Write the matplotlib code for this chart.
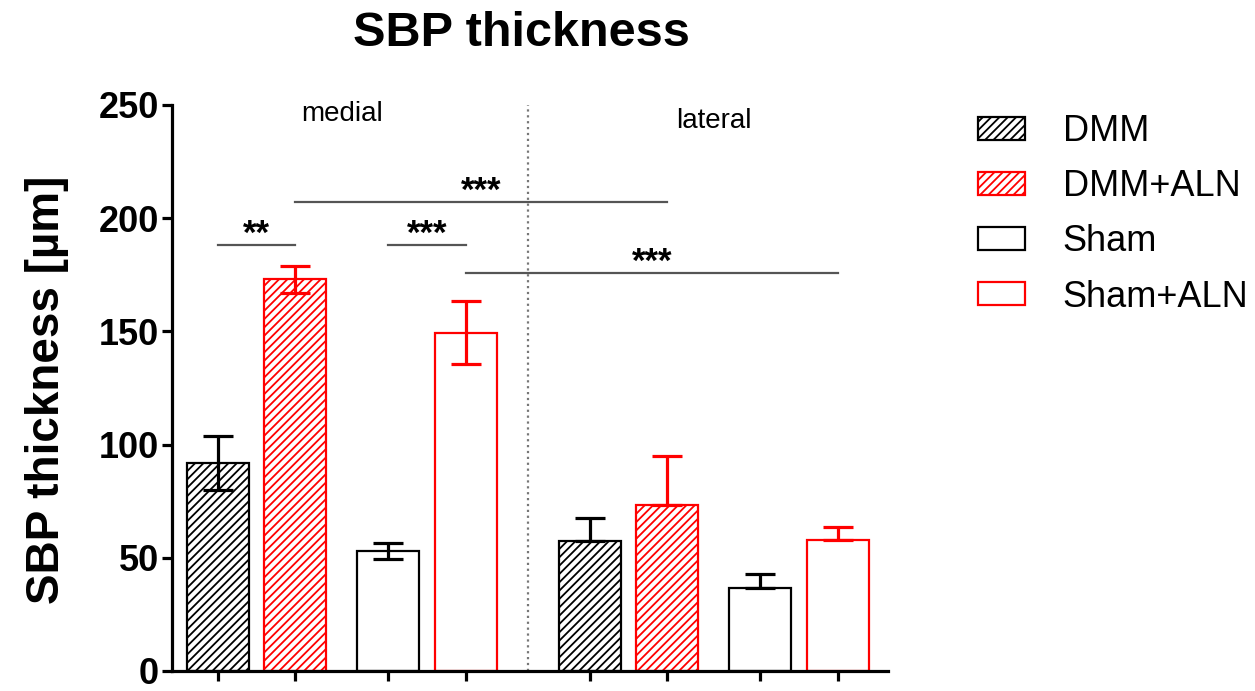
import numpy as np
import matplotlib
matplotlib.use("Agg")
import matplotlib.pyplot as plt
from matplotlib.patches import Patch

plt.rcParams["font.family"] = ["Liberation Sans", "DejaVu Sans"]
plt.rcParams["hatch.linewidth"] = 1.3

# Data
regions = ["medial", "lateral"]
series = ["DMM", "DMM+ALN", "Sham", "Sham+ALN"]
dmm = [92, 57.5]
dmm_err = [12, 10]
dmm_aln = [173, 73.5]
dmm_aln_err = [6, 21.5]
sham = [53, 36.5]
sham_err = [3.5, 6.5]
sham_aln = [149.5, 58]
sham_aln_err = [14, 5.5]
# error bars shown both ways for medial, only upward for lateral
both_sides = [True, False]

# significance: (series index, region a, series index, region b, y level, label)
sig_pairs = [
    (0, 0, 1, 0, 188, "**"),
    (2, 0, 3, 0, 188, "***"),
    (1, 0, 1, 1, 207, "***"),
    (3, 0, 3, 1, 176, "***"),
]

means = [dmm, dmm_aln, sham, sham_aln]
errs = [dmm_err, dmm_aln_err, sham_err, sham_aln_err]
colors = ["black", "red", "black", "red"]
hatches = ["////", "////", None, None]

# layout
series_offset = [0, 1, 2.2, 3.2]
region_offset = [0, 4.8]
width = 0.8

fig = plt.figure(figsize=(12.55, 6.91), dpi=100)
ax = fig.add_axes([0.137, 20 / 691, 0.5705, 566 / 691])

pos = {}
for s in range(len(series)):
    xs = [region_offset[r] + series_offset[s] for r in range(len(regions))]
    for r in range(len(regions)):
        pos[(s, r)] = xs[r]
    ax.bar(xs, means[s], width=width, facecolor="white", edgecolor=colors[s],
           hatch=hatches[s], linewidth=1.6, zorder=2)
    for r in range(len(regions)):
        lo = errs[s][r] if both_sides[r] else 0
        ax.errorbar(xs[r], means[s][r], yerr=[[lo], [errs[s][r]]], fmt="none",
                    ecolor=colors[s], elinewidth=2.3, capsize=10.5, capthick=2.3,
                    zorder=3)

# divider between regions
mid = (region_offset[0] + series_offset[-1] + region_offset[1]) / 2
ax.plot([mid, mid], [0, 250], color="#777777", linestyle=":", lw=1.6, zorder=1)

# region labels
label_y = [246, 243]
for r, name in enumerate(regions):
    cx = region_offset[r] + (series_offset[0] + series_offset[-1]) / 2
    ax.text(cx, label_y[r], name, ha="center", va="center", fontsize=20)

# significance lines
for s1, r1, s2, r2, y, lab in sig_pairs:
    x1, x2 = pos[(s1, r1)], pos[(s2, r2)]
    ax.plot([x1, x2], [y, y], color="#555555", lw=1.6, zorder=1)
    ax.text((x1 + x2) / 2, y + 0.5, lab, ha="center", va="baseline",
            fontsize=25, fontweight="bold")

ax.set_xlim(-0.594, 8.645)
ax.set_ylim(0, 250)
ax.set_yticks([0, 50, 100, 150, 200, 250])
ax.set_xticks(sorted(pos.values()))
ax.set_xticklabels([])
for side in ["top", "right"]:
    ax.spines[side].set_visible(False)
for side in ["left", "bottom"]:
    ax.spines[side].set_linewidth(2.3)
ax.tick_params(axis="y", direction="out", length=7.5, width=2.3, pad=2,
               labelsize=26)
ax.tick_params(axis="x", direction="out", length=7.5, width=2.3)
for t in ax.get_yticklabels():
    t.set_fontweight("bold")

fig.text(47 / 1255, 1 - 390 / 691, "SBP thickness [µm]", rotation=90,
         ha="center", va="center", fontsize=33, fontweight="bold")
fig.text(521 / 1255, 1 - 34 / 691, "SBP thickness", ha="center", va="center",
         fontsize=35, fontweight="bold")

handles = [Patch(facecolor="white", edgecolor=colors[s], hatch=hatches[s],
                 linewidth=1.6, label=series[s]) for s in range(len(series))]
fig.legend(handles=handles, loc="upper left",
           bbox_to_anchor=(978 / 1255, 1 - 114 / 691), frameon=False,
           fontsize=26, handlelength=1.3, handleheight=0.6,
           handletextpad=1.05, labelspacing=0.56, borderpad=0, borderaxespad=0)

fig.savefig("out.png", dpi=100)
